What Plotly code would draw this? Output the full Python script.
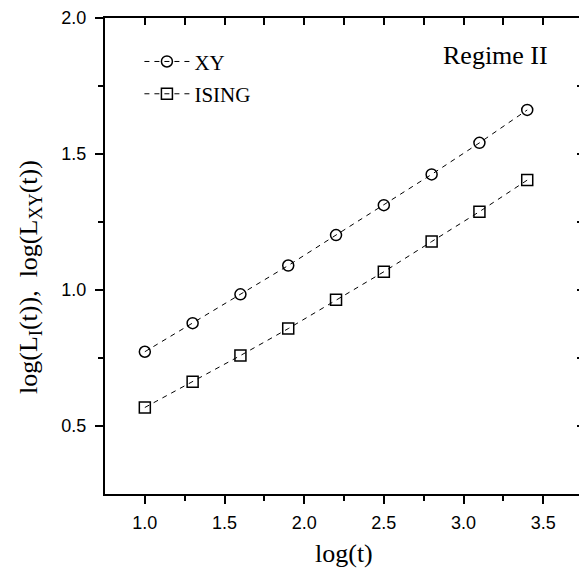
import plotly.graph_objects as go

log_t = [1.0, 1.3, 1.6, 1.9, 2.2, 2.5, 2.8, 3.1, 3.4]
xy_vals = [0.773, 0.878, 0.984, 1.090, 1.202, 1.312, 1.425, 1.541, 1.662]
ising_vals = [0.568, 0.663, 0.759, 0.858, 0.964, 1.067, 1.178, 1.288, 1.404]

x_range = [0.75, 3.75]
y_range = [0.25, 2.0]
x_ticks = [1.0, 1.5, 2.0, 2.5, 3.0, 3.5]
y_ticks = [0.5, 1.0, 1.5, 2.0]

fig = go.Figure()
fig.add_trace(go.Scatter(
    x=log_t, y=xy_vals, name="XY", mode="lines+markers",
    line=dict(color="black", width=1, dash="5px,5px"),
    marker=dict(symbol="circle-open", size=11, color="black", line=dict(width=1.5)),
    legendgroup="a"))
fig.add_trace(go.Scatter(
    x=log_t, y=ising_vals, name="ISING", mode="lines+markers",
    line=dict(color="black", width=1, dash="5px,5px"),
    marker=dict(symbol="square-open", size=11, color="black", line=dict(width=1.5)),
    legendgroup="b"))
# empty trace to hold the mirrored top/right axes
fig.add_trace(go.Scatter(x=[], y=[], xaxis="x2", yaxis="y2", showlegend=False))

tickfont = dict(family="Liberation Sans, Arial", size=18, color="black")
serif = "Liberation Serif, Times New Roman"
fig.update_layout(
    width=579, height=561,
    margin=dict(l=97, r=4, t=10, b=75),
    paper_bgcolor="white", plot_bgcolor="white",
    showlegend=True,
    legend=dict(x=0.072, y=0.951, xanchor="left", yanchor="top",
                bgcolor="rgba(0,0,0,0)", traceorder="grouped", tracegroupgap=2,
                font=dict(family=serif, size=21, color="black"),
                itemwidth=45),
    xaxis=dict(range=x_range, tickvals=x_ticks, ticktext=[f"{v:.1f}" for v in x_ticks],
               ticks="outside", ticklen=8, tickwidth=2, tickcolor="black",
               minor=dict(tickvals=[1.25, 1.75, 2.25, 2.75, 3.25], ticks="outside", ticklen=5, tickwidth=1.5, tickcolor="black"),
               showline=True, linewidth=2, linecolor="black", showgrid=False, zeroline=False,
               tickfont=tickfont, ticklabelstandoff=3, automargin=False),
    yaxis=dict(range=y_range, tickvals=y_ticks, ticktext=[f"{v:.1f}" for v in y_ticks],
               ticks="outside", ticklen=8, tickwidth=2, tickcolor="black",
               minor=dict(tickvals=[0.75, 1.25, 1.75], ticks="outside", ticklen=5, tickwidth=1.5, tickcolor="black"),
               showline=True, linewidth=2, linecolor="black", showgrid=False, zeroline=False,
               tickfont=tickfont, ticklabelstandoff=5, automargin=False),
    xaxis2=dict(range=x_range, overlaying="x", side="top", anchor="y",
                tickvals=[1.0, 1.25, 1.5, 1.75, 2.0, 2.25, 2.5, 2.75, 3.0, 3.25, 3.5],
                ticks="inside", ticklen=7, tickwidth=2, tickcolor="black",
                showticklabels=False, showline=True, linewidth=2, linecolor="black",
                showgrid=False, zeroline=False, automargin=False),
    yaxis2=dict(range=y_range, overlaying="y", side="right", anchor="x",
                tickvals=[0.5, 0.75, 1.0, 1.25, 1.5, 1.75],
                ticks="inside", ticklen=6, tickwidth=2, tickcolor="black",
                showticklabels=False, showline=True, linewidth=2, linecolor="black",
                showgrid=False, zeroline=False, automargin=False),
    annotations=[
        dict(text="log(t)", xref="paper", yref="paper", x=0.5, y=-0.124,
             xanchor="center", yanchor="middle", showarrow=False,
             font=dict(family=serif, size=26, color="black")),
        dict(text="log(L<sub>I</sub>(t)),  log(L<sub>XY</sub>(t))", xref="paper", yref="paper",
             x=-0.157, y=0.456, xanchor="center", yanchor="middle", textangle=-90,
             showarrow=False,
             font=dict(family=serif, size=26, color="black")),
        dict(text="Regime II", xref="paper", yref="paper", x=0.931, y=0.922,
             xanchor="right", yanchor="middle", showarrow=False,
             font=dict(family=serif, size=26, color="black")),
    ],
)

fig.write_html("out.html")
